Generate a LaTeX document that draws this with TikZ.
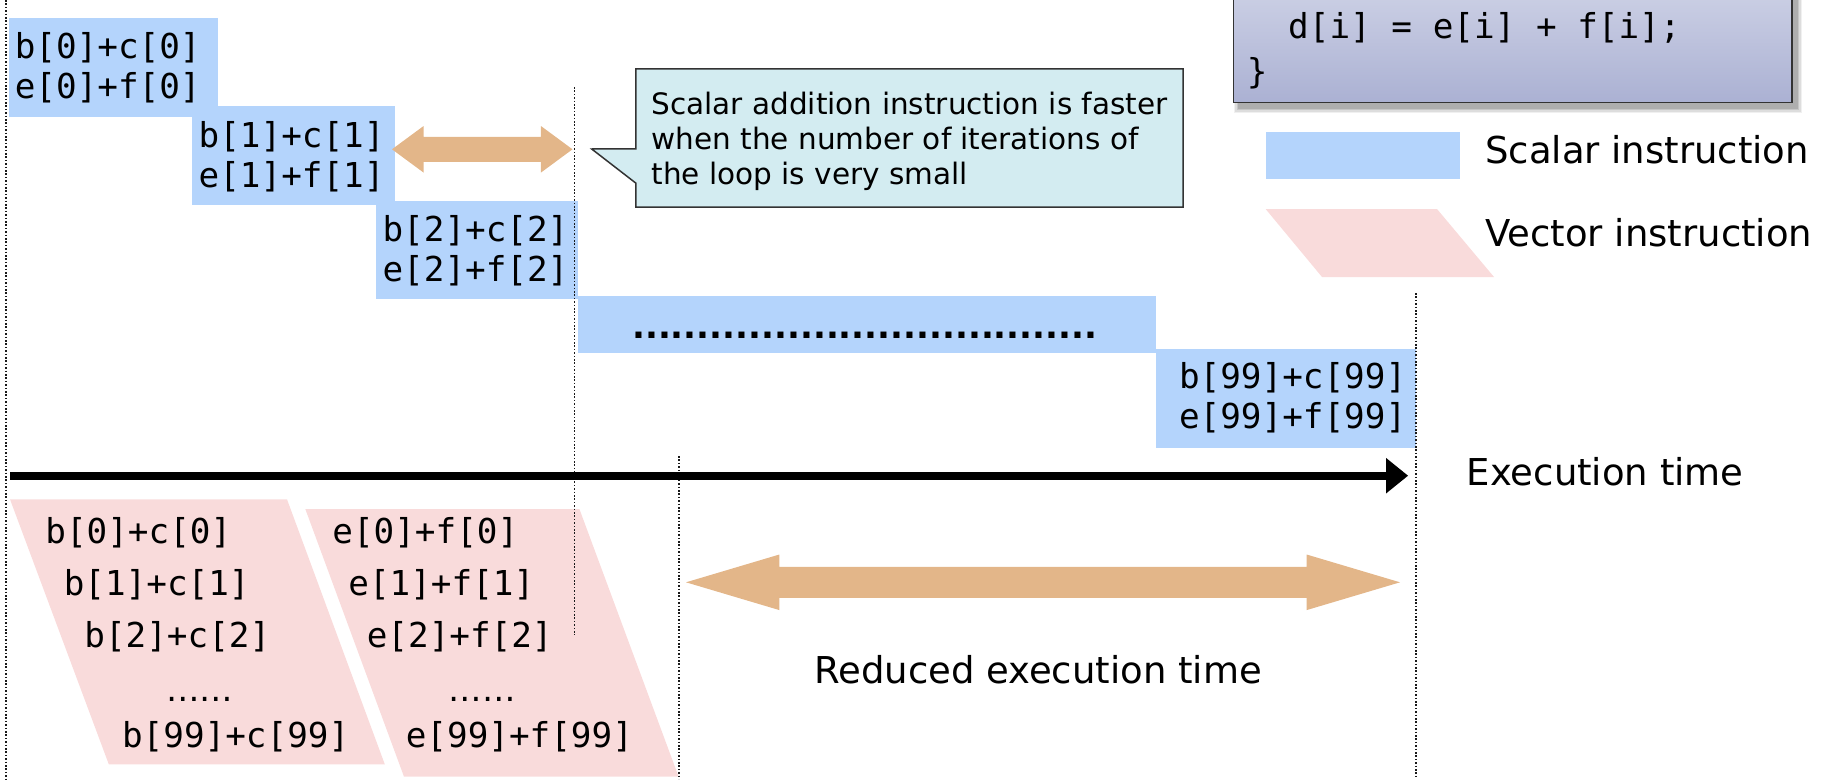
\documentclass[tikz,border=0pt]{standalone}
\usepackage{fontspec}
\setmainfont{DejaVu Sans}
\newfontfamily\monof{DejaVu Sans Mono}
\usetikzlibrary{calc}
\definecolor{scal}{HTML}{B4D4FC}
\definecolor{vect}{HTML}{F9DBDB}
\definecolor{orng}{HTML}{E3B689}
\definecolor{callf}{HTML}{D3ECF1}
\definecolor{codetop}{HTML}{E0E3F0}
\definecolor{codebot}{HTML}{ABB1D3}
\newcommand\orarrow[6]{\fill[orng] (#1,#3) -- ({#1+#6},{#3-#4}) -- ({#1+#6},{#3-#5}) -- ({#2-#6},{#3-#5}) -- ({#2-#6},{#3-#4}) -- (#2,#3) -- ({#2-#6},{#3+#4}) -- ({#2-#6},{#3+#5}) -- ({#1+#6},{#3+#5}) -- ({#1+#6},{#3+#4}) -- cycle;}
\tikzset{
 sbox/.style={fill=scal, inner sep=0pt},
 mtext/.style={anchor=west, inner sep=0pt, align=left, font=\monof\fontsize{34.3}{40}\selectfont},
 vdots/.style={anchor=base, inner sep=0pt, font=\fontsize{33.5}{40}\selectfont},
 lbl/.style={anchor=west, inner sep=0pt, font=\fontsize{37}{44}\selectfont},
 tline/.style={line width=1.8pt, black!90, dash pattern=on 1.6pt off 1.8pt},
}
\begin{document}
\begin{tikzpicture}[x=1pt,y=-1pt]
\useasboundingbox (0,0) rectangle (1825,779);

% vector instruction shapes
\fill[vect] (10,499.3) -- (287,499.3) -- (384.8,764.3) -- (108.8,764.3) -- cycle;
\fill[vect] (305.3,509) -- (579.4,509) -- (678.6,776.7) -- (404,776.7) -- cycle;
\fill[vect] (1265.6,209) -- (1437,209) -- (1494,277) -- (1322,277) -- cycle;

% scalar boxes
\node[sbox, minimum width=208.8pt, minimum height=98.4pt] (s0) at (113.1,67.5) {};
\node[sbox, minimum width=202.6pt, minimum height=98.7pt] (s1) at (293.3,155.4) {};
\node[sbox, minimum width=201.7pt, minimum height=98.3pt] (s2) at (476.9,250.2) {};
\node[sbox, minimum width=578pt, minimum height=57pt] (sd) at (867,324.7) {};
\node[sbox, minimum width=259.4pt, minimum height=98.7pt] (s99) at (1286.1,398.4) {};
\node[sbox, minimum width=194.4pt, minimum height=47pt] (lgs) at (1362.8,155.5) {};

\node[mtext] (t0) at ($(s0.west)+(6.1,0.5)$) {b[0]+c[0]\\e[0]+f[0]};
\node[mtext] (t1) at ($(s1.west)+(6.7,1)$) {b[1]+c[1]\\e[1]+f[1]};
\node[mtext] (t2) at ($(s2.west)+(6.5,0.5)$) {b[2]+c[2]\\e[2]+f[2]};
\node[mtext] (t99) at ($(s99.west)+(22.6,-0.5)$) {b[99]+c[99]\\e[99]+f[99]};
\node[anchor=base west, inner sep=0pt, font=\bfseries\fontsize{34}{40}\selectfont] (tdots) at (632,338.3) {....................................};

% vector texts
\node[mtext] (v1a) at (45.2,533) {b[0]+c[0]};
\node[mtext] (v1b) at (63.6,585) {b[1]+c[1]};
\node[mtext] (v1c) at (84.2,637) {b[2]+c[2]};
\node[vdots] (v1d) at (199.7,701) {……};
\node[mtext] (v1e) at (121.9,737) {b[99]+c[99]};
\node[mtext] (v2a) at (332.2,533) {e[0]+f[0]};
\node[mtext] (v2b) at (348.2,585) {e[1]+f[1]};
\node[mtext] (v2c) at (366.6,637) {e[2]+f[2]};
\node[vdots] (v2d) at (482,701) {……};
\node[mtext] (v2e) at (405.6,737) {e[99]+f[99]};

% orange arrows
\orarrow{392}{572.5}{149.3}{23.3}{12.5}{31.6}
\orarrow{686}{1400}{582.3}{27.8}{15.5}{93.4}

% callout
\node[minimum width=547pt, minimum height=138pt, inner sep=0pt] (cl) at (909.5,138) {};
\coordinate (cpa) at ($(cl.north west)+(0,80)$);
\coordinate (cpb) at ($(cl.north west)+(0,114.3)$);
\coordinate (ctip) at (591.7,149);
\filldraw[fill=callf, draw=black!80, line width=1.5pt, line join=miter]
  (cl.north west) -- (cl.north east) -- (cl.south east) -- (cl.south west) -- (cpb) -- (ctip) -- (cpa) -- cycle;
\node[align=left, inner sep=0pt, font=\fontsize{29.5}{35}\selectfont] (clt) at ($(cl.center)+(0,3)$)
  {Scalar addition instruction is faster\\when the number of iterations of\\the loop is very small};

% code box with soft shadow
\foreach \g/\o in {5/0.06,3.5/0.08,2/0.1,0.5/0.12}
  \fill[black, opacity=\o] ({1238.5-\g},-80) rectangle ({1797+\g},{108.3+\g});
\node[top color=codetop, bottom color=codebot, draw=black!80, line width=1.5pt,
  minimum width=558.5pt, minimum height=182.3pt, inner sep=0pt] (code) at (1512.75,11.15) {};
\node[mtext] (c2) at (1288,28) {d[i] = e[i] + f[i];};
\node[mtext] (c3) at (1246.7,73.3) {\}};

% legend and labels
\node[lbl] (lgst) at (1485,150) {Scalar instruction};
\node[lbl] (lgvt) at (1485,232.5) {Vector instruction};
\node[lbl] (ext) at (1466.5,471.5) {Execution time};
\node[lbl] (red) at (814,669.7) {Reduced execution time};

% dotted time markers
\coordinate (d1a) at (6,0);      \coordinate (d1b) at (6,779);
\coordinate (d2a) at (574.5,87); \coordinate (d2b) at (574.5,635);
\coordinate (d3a) at (679,456);  \coordinate (d3b) at (679,779);
\coordinate (d4a) at (1416,293); \coordinate (d4b) at (1416,779);
\draw[tline] (d1a) -- (d1b);
\draw[tline] (d2a) -- (d2b);
\draw[tline] (d3a) -- (d3b);
\draw[tline] (d4a) -- (d4b);

% execution time axis
\coordinate (xs) at (10,475.7);
\coordinate (xh) at (1386,475.7);
\coordinate (xt) at (1408,475.7);
\draw[line width=8pt] (xs) -- (xh);
\fill (xt) -- ($(xh)+(0,-17.8)$) -- ($(xh)+(0,17.8)$) -- cycle;
\end{tikzpicture}
\end{document}
